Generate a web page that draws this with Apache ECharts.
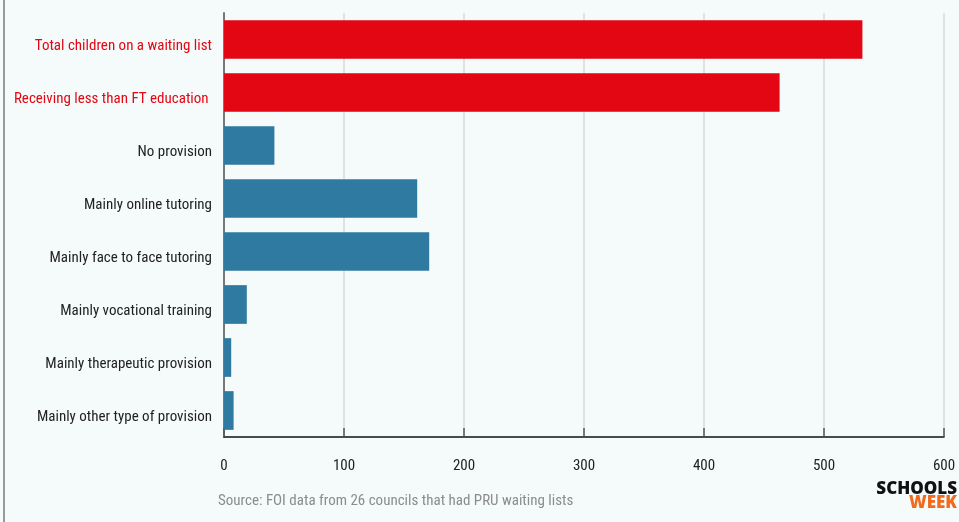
<!DOCTYPE html>
<html>
<head>
<meta charset="utf-8">
<script src="https://cdn.jsdelivr.net/npm/echarts@6/dist/echarts.min.js"></script>
<style>
  html, body { margin: 0; padding: 0; background: #f5fafa; }
  #chart { width: 959px; height: 522px; }
</style>
</head>
<body>
<div id="chart"></div>
<script>
// Categories, top to bottom
const categories = [
  'Total children on a waiting list',
  'Receiving less than FT education ',
  'No provision',
  'Mainly online tutoring',
  'Mainly face to face tutoring',
  'Mainly vocational training',
  'Mainly therapeutic provision',
  'Mainly other type of provision'
];
// Number of children in each category
const values = [532, 463, 42, 161, 171, 19, 6, 8];
// Which rows are headline totals (drawn in red)
const highlighted = [true, true, false, false, false, false, false, false];
const xTicks = [0, 100, 200, 300, 400, 500, 600];

const RED = '#e30613';
const BLUE = '#2e7aa1';
const FONT = '"Roboto Condensed", "Liberation Sans Narrow", "DejaVu Sans Condensed", Roboto, sans-serif';

const labelStyle = { fontSize: 15, fontFamily: FONT, padding: [14, 0, 0, 0] };

const chart = echarts.init(document.getElementById('chart'));
chart.setOption({
  backgroundColor: '#f5fafa',
  animation: false,
  grid: { left: 224, right: 15, top: 13, bottom: 85, containLabel: false },
  xAxis: {
    type: 'value',
    min: xTicks[0],
    max: xTicks[xTicks.length - 1],
    interval: 100,
    axisLine: { show: true, lineStyle: { color: '#111', width: 1.5 } },
    axisTick: { show: true, inside: true, length: 9, lineStyle: { color: '#555', width: 1.5 } },
    splitLine: { show: true, lineStyle: { color: '#d8dada', width: 1.5 } },
    axisLabel: { margin: 22, color: '#222', fontSize: 15, fontFamily: FONT }
  },
  yAxis: {
    type: 'category',
    inverse: true,
    data: categories,
    axisLine: { show: true, lineStyle: { color: '#777', width: 2 } },
    axisTick: { show: false },
    axisLabel: {
      margin: 12,
      fontSize: 15,
      fontFamily: FONT,
      formatter: function (value, index) {
        return '{' + (highlighted[index] ? 'hi' : 'lo') + '|' + value + '}';
      },
      rich: {
        hi: Object.assign({ color: RED }, labelStyle),
        lo: Object.assign({ color: '#222' }, labelStyle)
      }
    }
  },
  series: [{
    type: 'bar',
    barCategoryGap: '27%',
    data: values.map(function (v, i) {
      return { value: v, itemStyle: { color: highlighted[i] ? RED : BLUE } };
    })
  }],
  graphic: [
    { type: 'rect', left: 3, top: 0, shape: { width: 2, height: 522 }, style: { fill: '#9a9a9a' }, silent: true },
    { type: 'text', left: 218, top: 494, style: { text: 'Source: FOI data from 26 councils that had PRU waiting lists', fill: '#8c8c8c', font: '15px ' + FONT } },
    { type: 'text', right: 2, top: 481, style: { text: 'SCHOOLS', fill: '#111', font: '900 17px "Open Sans", Roboto, sans-serif', align: 'right' } },
    { type: 'text', right: 2, top: 495, style: { text: 'WEEK', fill: '#f26a1b', font: '900 17px "Open Sans", Roboto, sans-serif', align: 'right' } }
  ]
});
</script>
</body>
</html>
